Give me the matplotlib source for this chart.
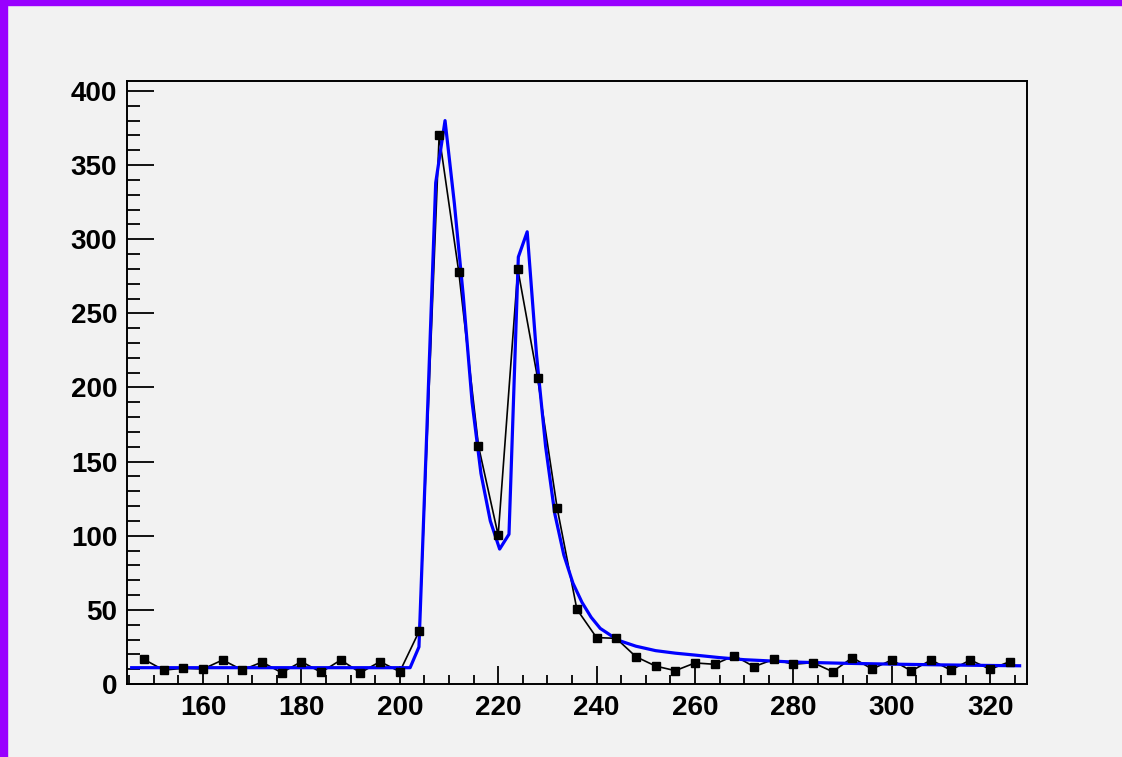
import matplotlib
matplotlib.use("Agg")
import matplotlib.pyplot as plt
from matplotlib.patches import Rectangle
from matplotlib.ticker import MultipleLocator

# data points (bin centres and counts)
x_data = [148, 152, 156, 160, 164, 168, 172, 176, 180, 184, 188, 192, 196, 200,
          204, 208, 212, 216, 220, 224, 228, 232, 236, 240, 244, 248, 252, 256,
          260, 264, 268, 272, 276, 280, 284, 288, 292, 296, 300, 304, 308, 312,
          316, 320, 324]
y_data = [16.6, 9.4, 10.6, 10.1, 16.2, 9.4, 14.8, 7.6, 15.1, 7.9, 16.2, 7.6, 15.1, 8.3,
          36.0, 370.0, 277.7, 160.5, 100.3, 279.7, 206.6, 118.5, 50.4, 31.3, 30.8, 18.4,
          12.1, 9.0, 14.2, 13.3, 19.1, 11.7, 16.6, 13.3, 14.4, 8.3, 17.8, 10.1, 16.2,
          8.8, 16.2, 9.4, 16.2, 9.9, 15.1]

# fitted curve
x_fit = [145.5, 202.1, 203.9, 205.6, 207.3, 209.2, 211.1, 212.9, 214.7, 216.5,
         218.4, 220.3, 222.2, 224.1, 225.9, 227.8, 229.65, 231.5, 233.35, 235.2,
         237.05, 238.9, 240.75, 244.4, 248.0, 252.0, 256.0, 260.0, 265.0, 270.0,
         280.0, 290.0, 300.0, 310.0, 320.0, 326.0]
y_fit = [11.0, 11.0, 25.0, 180.0, 338.0, 380.0, 324.0, 262.0, 190.0, 142.0,
         110.0, 91.0, 101.0, 288.0, 305.0, 222.0, 160.0, 115.0, 87.0, 68.0,
         55.0, 45.0, 37.5, 29.5, 25.5, 22.5, 20.8, 19.5, 17.8, 16.4,
         14.8, 14.0, 13.4, 12.9, 12.5, 12.3]

x_ticks = [160, 180, 200, 220, 240, 260, 280, 300, 320]
y_ticks = [0, 50, 100, 150, 200, 250, 300, 350, 400]

bg = "#f2f2f2"
plt.rcParams['font.family'] = ['Liberation Sans', 'DejaVu Sans']

fig = plt.figure(figsize=(11.22, 7.57), dpi=100, facecolor=bg)
ax = fig.add_axes([127 / 1122, 73 / 757, 900 / 1122, 603 / 757])
ax.set_facecolor(bg)

# purple frame on top and left of the canvas
fig.patches.append(Rectangle((0, 1 - 5 / 757), 1, 5 / 757, transform=fig.transFigure,
                             color="#9900ff", zorder=10))
fig.patches.append(Rectangle((0, 0), 7 / 1122, 1, transform=fig.transFigure,
                             color="#9900ff", zorder=10))

ax.plot(x_data, y_data, color="black", lw=1.2, zorder=2)
ax.plot(x_fit, y_fit, color="#0000ff", lw=2.3, zorder=3)
ax.plot(x_data, y_data, ls="none", marker="s", ms=6.3, color="black", zorder=4)

ax.set_xlim(144.55, 327.5)
ax.set_ylim(0, 406.7)
ax.set_xticks(x_ticks)
ax.set_yticks(y_ticks)
ax.xaxis.set_minor_locator(MultipleLocator(5))
ax.yaxis.set_minor_locator(MultipleLocator(10))

ax.tick_params(axis="x", which="major", direction="in", length=13, width=1.3,
               pad=8, labelsize=20)
ax.tick_params(axis="x", which="minor", direction="in", length=6.5, width=1.3)
ax.tick_params(axis="y", which="major", direction="in", length=19.5, width=1.3,
               pad=7, labelsize=20)
ax.tick_params(axis="y", which="minor", direction="in", length=9.7, width=1.3)
for lab in ax.get_xticklabels() + ax.get_yticklabels():
    lab.set_fontweight("bold")

for s in ax.spines.values():
    s.set_linewidth(1.4)
    s.set_color("black")

fig.savefig("out.png", dpi=100, facecolor=bg)
